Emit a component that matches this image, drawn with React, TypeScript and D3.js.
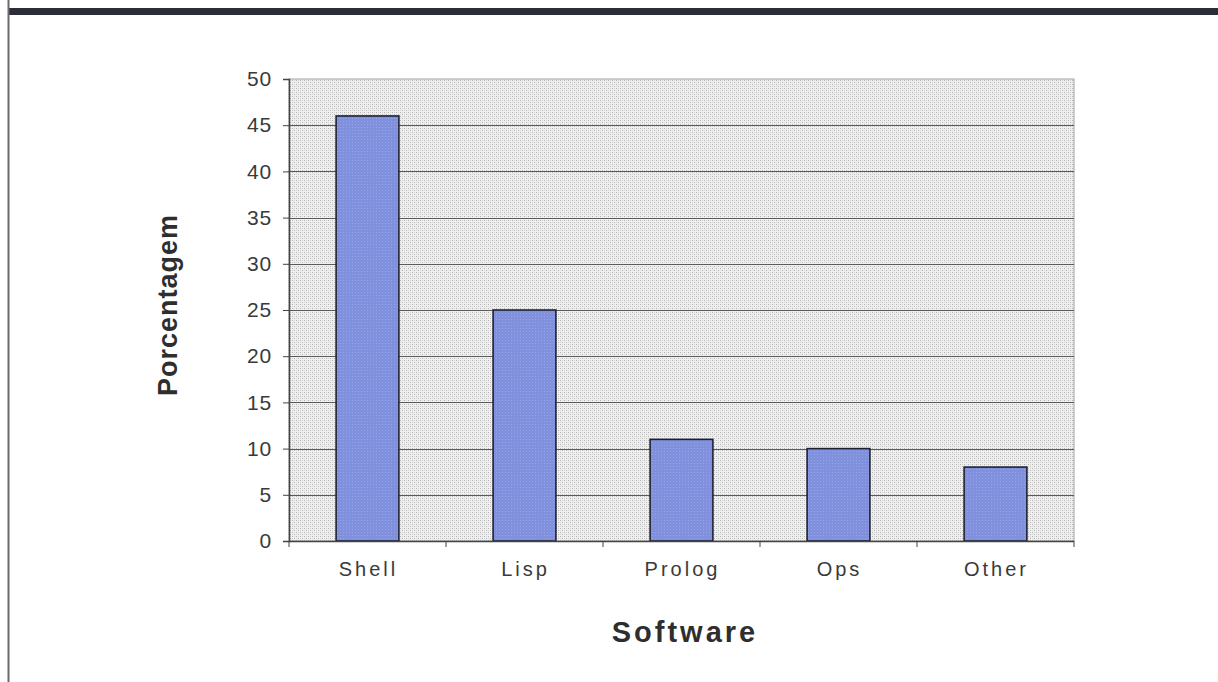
import React, { useEffect, useRef } from "react";
import * as d3 from "d3";

const categories = ["Shell", "Lisp", "Prolog", "Ops", "Other"];
const values = [46, 25, 11, 10, 8];
const yTicks = [0, 5, 10, 15, 20, 25, 30, 35, 40, 45, 50];
const yTitle = "Porcentagem";
const xTitle = "Software";

const W = 1218;
const H = 682;
const plot = { left: 289, right: 1074, top: 79, bottom: 541 };
const FONT = "Arial, 'Liberation Sans', sans-serif";

export default function App() {
  const ref = useRef<SVGSVGElement | null>(null);

  useEffect(() => {
    const svg = d3.select(ref.current);
    svg.selectAll("*").remove();

    const defs = svg.append("defs");
    const pat = defs
      .append("pattern")
      .attr("id", "dots")
      .attr("width", 4)
      .attr("height", 4)
      .attr("patternUnits", "userSpaceOnUse");
    pat.append("rect").attr("width", 4).attr("height", 4).attr("fill", "#f0f0f0");
    pat.append("rect").attr("x", 0).attr("y", 0).attr("width", 1).attr("height", 1).attr("fill", "#b4b4b4");
    pat.append("rect").attr("x", 2).attr("y", 2).attr("width", 1).attr("height", 1).attr("fill", "#b4b4b4");
    pat.append("rect").attr("x", 2).attr("y", 0).attr("width", 1).attr("height", 1).attr("fill", "#d6d6d6");
    pat.append("rect").attr("x", 0).attr("y", 2).attr("width", 1).attr("height", 1).attr("fill", "#d6d6d6");

    const barPat = defs
      .append("pattern")
      .attr("id", "barTex")
      .attr("width", 3)
      .attr("height", 3)
      .attr("patternUnits", "userSpaceOnUse");
    barPat.append("rect").attr("width", 3).attr("height", 3).attr("fill", "#8090dc");
    barPat.append("rect").attr("x", 1).attr("y", 1).attr("width", 1).attr("height", 1).attr("fill", "#94a2e6");

    // page frame: dark band across the top and thin rule on the left
    svg.append("rect").attr("x", 0).attr("y", 0).attr("width", W).attr("height", H).attr("fill", "#ffffff");
    svg.append("rect").attr("x", 8).attr("y", 8).attr("width", W - 8).attr("height", 7).attr("fill", "#2b2e36");
    svg.append("rect").attr("x", 7.5).attr("y", 0).attr("width", 2).attr("height", H).attr("fill", "#6b6b6b");

    const band = d3.scaleBand<string>().domain(categories).range([plot.left, plot.right]);
    const y = d3.scaleLinear().domain([0, 50]).range([plot.bottom, plot.top]);

    // plot background
    svg
      .append("rect")
      .attr("x", plot.left)
      .attr("y", plot.top)
      .attr("width", plot.right - plot.left)
      .attr("height", plot.bottom - plot.top)
      .attr("fill", "url(#dots)")
      .attr("stroke", "#a0a0a0")
      .attr("stroke-width", 1);

    // gridlines
    svg
      .append("g")
      .selectAll("line")
      .data(yTicks.filter((t) => t > 0 && t < 50))
      .join("line")
      .attr("x1", plot.left)
      .attr("x2", plot.right)
      .attr("y1", (d) => Math.round(y(d)) + 0.5)
      .attr("y2", (d) => Math.round(y(d)) + 0.5)
      .attr("stroke", "#5a5a5a")
      .attr("stroke-width", 1);

    // bars
    svg
      .append("g")
      .selectAll("rect")
      .data(values)
      .join("rect")
      .attr("x", (_, i) => band(categories[i])! + band.bandwidth() * 0.3)
      .attr("y", (d) => y(d))
      .attr("width", band.bandwidth() * 0.4)
      .attr("height", (d) => y(0) - y(d))
      .attr("fill", "url(#barTex)")
      .attr("stroke", "#1e2230")
      .attr("stroke-width", 1.6);

    // y axis
    const yAxis = d3
      .axisLeft(y)
      .tickValues(yTicks)
      .tickSize(6)
      .tickPadding(11)
      .tickFormat((d) => String(d));
    const gy = svg.append("g").attr("transform", `translate(${plot.left},0)`).call(yAxis);
    gy.select(".domain").attr("stroke", "#444").attr("stroke-width", 1.5);
    gy.selectAll(".tick line").attr("stroke", "#444");
    gy.selectAll(".tick text")
      .attr("fill", "#3a3a3a")
      .attr("font-family", FONT)
      .attr("font-size", 21)
      .attr("letter-spacing", 0.8);

    // x axis: ticks on the category boundaries
    const gx = svg.append("g");
    gx.append("line")
      .attr("x1", plot.left)
      .attr("x2", plot.right)
      .attr("y1", plot.bottom + 0.5)
      .attr("y2", plot.bottom + 0.5)
      .attr("stroke", "#444")
      .attr("stroke-width", 1.5);
    const bounds = categories.map((c) => band(c)!).concat([plot.right]);
    gx.selectAll("line.tk")
      .data(bounds)
      .join("line")
      .attr("class", "tk")
      .attr("x1", (d) => d)
      .attr("x2", (d) => d)
      .attr("y1", plot.bottom)
      .attr("y2", plot.bottom + 6)
      .attr("stroke", "#444");
    gx.selectAll("text")
      .data(categories)
      .join("text")
      .attr("x", (d) => band(d)! + band.bandwidth() / 2 + 1)
      .attr("y", 576)
      .attr("text-anchor", "middle")
      .attr("fill", "#3a3a3a")
      .attr("font-family", FONT)
      .attr("font-size", 20)
      .attr("letter-spacing", 3)
      .text((d) => d);

    // axis titles
    svg
      .append("text")
      .attr("transform", `translate(177,305) rotate(-90)`)
      .attr("text-anchor", "middle")
      .attr("fill", "#2e2e2e")
      .attr("font-family", FONT)
      .attr("font-weight", "bold")
      .attr("font-size", 27)
      .attr("letter-spacing", 1)
      .text(yTitle);
    svg
      .append("text")
      .attr("x", 685)
      .attr("y", 642)
      .attr("text-anchor", "middle")
      .attr("fill", "#2e2e2e")
      .attr("font-family", FONT)
      .attr("font-weight", "bold")
      .attr("font-size", 29)
      .attr("letter-spacing", 3)
      .text(xTitle);
  }, []);

  return (
    <svg
      ref={ref}
      width={W}
      height={H}
      style={{ position: "absolute", left: 0, top: 0, display: "block" }}
    />
  );
}
